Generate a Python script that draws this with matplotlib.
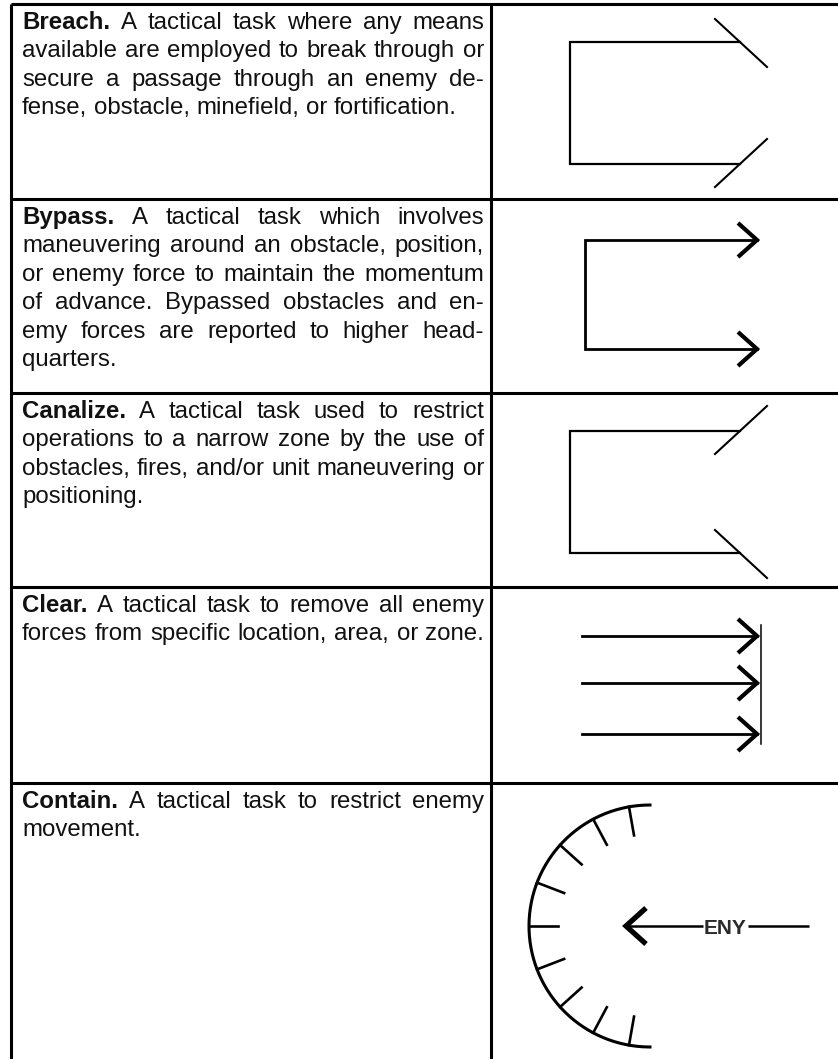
import numpy as np
import matplotlib
matplotlib.use("Agg")
import matplotlib.pyplot as plt

# page size in pixels (dpi 100)
W, H = 838, 1059

terms = ["Breach.", "Bypass.", "Canalize.", "Clear.", "Contain."]
definitions = [
    ["A tactical task where any means",
     "available are employed to break through or",
     "secure a passage through an enemy de-",
     "fense, obstacle, minefield, or fortification."],
    ["A tactical task which involves",
     "maneuvering around an obstacle, position,",
     "or enemy force to maintain the momentum",
     "of advance. Bypassed obstacles and en-",
     "emy forces are reported to higher head-",
     "quarters."],
    ["A tactical task used to restrict",
     "operations to a narrow zone by the use of",
     "obstacles, fires, and/or unit maneuvering or",
     "positioning."],
    ["A tactical task to remove all enemy",
     "forces from specific location, area, or zone."],
    ["A tactical task to restrict enemy",
     "movement."],
]

# table grid
row_tops = [4, 199, 393, 587, 783]
x_left, x_div, x_right = 11, 491, 838

# contain symbol: tick angles on the arc (degrees)
tick_angles = [100, 118, 138, 159, 180, 201, 222, 242, 260]

INK = "#111111"
FS = 17.3
LEAD = 28.4
TXT_L, TXT_R = 22, 484

fig = plt.figure(figsize=(W / 100, H / 100), dpi=100)
ax = fig.add_axes([0, 0, 1, 1])
ax.set_xlim(0, W)
ax.set_ylim(H, 0)
ax.axis("off")
renderer = fig.canvas.get_renderer()


def word_width(s, weight):
    t = ax.text(0, 0, s, fontsize=FS, family="Liberation Sans", fontweight=weight)
    w = t.get_window_extent(renderer).width
    t.remove()
    return w


space_w = word_width("a a", "normal") - 2 * word_width("a", "normal")

# grid lines
lw_grid = 2.2
ax.plot([x_left, x_right], [row_tops[0], row_tops[0]], color="black", lw=lw_grid, solid_capstyle="butt")
for yt in row_tops[1:]:
    ax.plot([x_left, x_right], [yt, yt], color="black", lw=lw_grid, solid_capstyle="butt")
ax.plot([x_left, x_left], [row_tops[0], H], color="black", lw=lw_grid, solid_capstyle="butt")
ax.plot([x_div, x_div], [row_tops[0], H], color="black", lw=lw_grid, solid_capstyle="butt")

# justified paragraphs
avail = TXT_R - TXT_L
for i, (term, lines) in enumerate(zip(terms, definitions)):
    base = row_tops[i] + 25
    for j, line in enumerate(lines):
        words = [(w, "normal") for w in line.split()]
        if j == 0:
            words = [(term, "bold")] + words
        widths = [word_width(w, wt) for w, wt in words]
        natural = sum(widths) + space_w * (len(words) - 1)
        last = j == len(lines) - 1
        if len(words) == 1 or (last and natural < 0.95 * avail):
            gap = space_w
        else:
            gap = (avail - sum(widths)) / (len(words) - 1)
        x = TXT_L
        y = base + j * LEAD
        for (w, wt), ww in zip(words, widths):
            ax.text(x, y, w, fontsize=FS, family="Liberation Sans", fontweight=wt,
                    color=INK, ha="left", va="baseline")
            x += ww + gap


def chevron(xtip, y, dx=19, dy=17, lw=3.0):
    ax.plot([xtip - dx, xtip, xtip - dx], [y - dy, y, y + dy], color="black",
            lw=lw, solid_joinstyle="miter", solid_capstyle="butt")


# Breach / Canalize brackets with diagonal ends
for row, sign in ((0, 1), (2, -1)):
    top = row_tops[row] + 38
    bot = row_tops[row] + 160
    xl, xr = 570, 740
    ax.plot([xr, xl, xl, xr], [top, top, bot, bot], color="black", lw=1.6,
            solid_joinstyle="miter")
    ax.plot([xr - 25, xr + 27], [top - sign * 23, top + sign * 25], color="black", lw=1.5)
    ax.plot([xr - 25, xr + 27], [bot + sign * 23, bot - sign * 25], color="black", lw=1.5)

# Bypass
top = row_tops[1] + 41
bot = row_tops[1] + 150
ax.plot([757, 585, 585, 757], [top, top, bot, bot], color="black", lw=2.0,
        solid_joinstyle="miter")
chevron(757, top)
chevron(757, bot)

# Clear
for off in (49, 96, 147):
    y = row_tops[3] + off
    ax.plot([582, 757], [y, y], color="black", lw=2.0)
    chevron(757, y)
ax.plot([761, 761], [row_tops[3] + 38, row_tops[3] + 157], color="black", lw=1.1)

# Contain
cx, cy, r = 650, row_tops[4] + 143, 121
th = np.radians(np.linspace(90, 270, 200))
ax.plot(cx + r * np.cos(th), cy - r * np.sin(th), color="black", lw=2.2)
for a in tick_angles:
    t = np.radians(a)
    ax.plot([cx + r * np.cos(t), cx + (r - 29) * np.cos(t)],
            [cy - r * np.sin(t), cy - (r - 29) * np.sin(t)], color="black", lw=1.9)
ax.plot([748, 809], [cy, cy], color="black", lw=1.8, solid_capstyle="butt")
ax.plot([627, 703], [cy, cy], color="black", lw=1.8, solid_capstyle="butt")
chevron(626, cy, dx=-20, dy=18, lw=3.8)
ax.text(725.5, cy, "ENY", fontsize=15, family="Liberation Sans", fontweight="bold",
        color="#2a2a2a", ha="center", va="center_baseline")

fig.savefig("out.png", dpi=100)
